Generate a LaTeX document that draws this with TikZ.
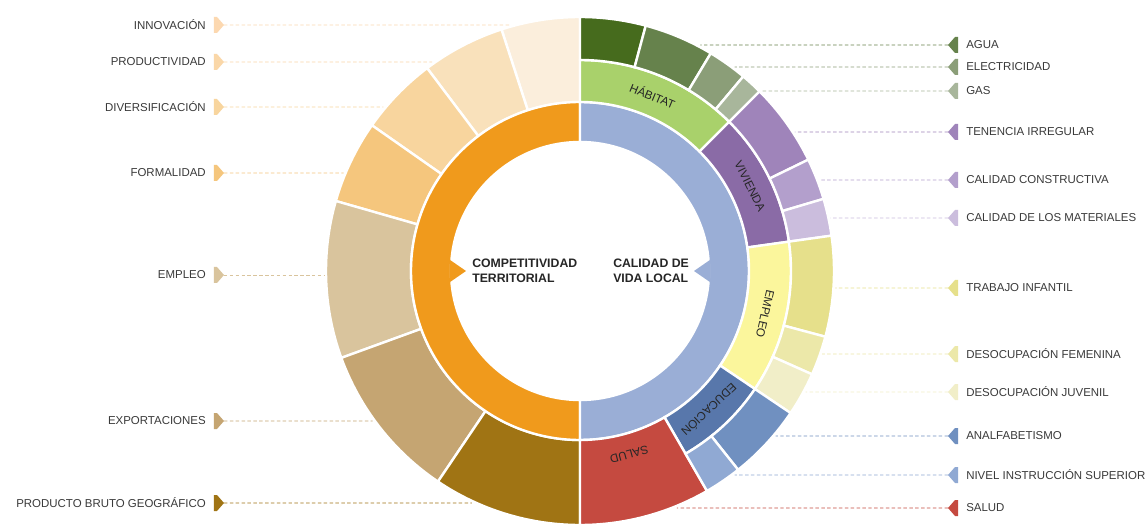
\documentclass[tikz,border=0pt]{standalone}
\usepackage{fontspec}
\setmainfont{Liberation Sans}
\usetikzlibrary{calc}

\definecolor{cOrange}{HTML}{F09A1C}
\definecolor{cBlue}{HTML}{9AAED6}
\definecolor{cInno}{HTML}{FBEEDC}
\definecolor{cProd}{HTML}{F9E1BB}
\definecolor{cDiver}{HTML}{F8D59E}
\definecolor{cFormal}{HTML}{F5C67D}
\definecolor{cEmpL}{HTML}{D9C49D}
\definecolor{cExpo}{HTML}{C5A572}
\definecolor{cPbg}{HTML}{A07414}
\definecolor{cHab}{HTML}{A9D16B}
\definecolor{cViv}{HTML}{8A6BA6}
\definecolor{cEmpR}{HTML}{FBF69C}
\definecolor{cEdu}{HTML}{5877AB}
\definecolor{cSalud}{HTML}{C54A40}
\definecolor{cAgua}{HTML}{466B1D}
\definecolor{cElec}{HTML}{66824C}
\definecolor{cGas}{HTML}{8B9E78}
\definecolor{cGasB}{HTML}{A8B69B}
\definecolor{cTen}{HTML}{9F84BA}
\definecolor{cCons}{HTML}{B39FCC}
\definecolor{cMat}{HTML}{CBBDDD}
\definecolor{cTrab}{HTML}{E6E08B}
\definecolor{cFem}{HTML}{ECE8A9}
\definecolor{cJuv}{HTML}{F1EEC8}
\definecolor{cAnalf}{HTML}{7090C0}
\definecolor{cNivel}{HTML}{90A9D3}
\definecolor{txtgray}{HTML}{3A3A3A}

\def\ringpart[#1](#2:#3:#4:#5){\filldraw[#1, draw=white, line width=1.8pt] (#2:#4) arc (#2:#3:#4) -- (#3:#5) arc (#3:#2:#5) -- cycle;}
\def\tipL[#1](#2){\fill[#1] (#2) -- ++(-7,8) -- ++(-3,0) -- ++(0,-16) -- ++(3,0) -- cycle;}
\def\tipR[#1](#2){\fill[#1] (#2) -- ++(7,8) -- ++(3,0) -- ++(0,-16) -- ++(-3,0) -- cycle;}

\tikzset{
  lbl/.style={font=\fontsize{8.6}{10}\selectfont, text=txtgray, inner sep=0pt},
  hub/.style={font=\bfseries\fontsize{9.2}{11.3}\selectfont, text=black!85, align=left, inner sep=0pt},
  seg/.style={font=\fontsize{8.8}{10}\selectfont, text=black!85, inner sep=0pt},
  link/.style={dash pattern=on 2.6pt off 1.8pt, line width=0.7pt}
}

\begin{document}
\begin{tikzpicture}[x=0.75pt, y=0.75pt]
			%%%%% START %%%%%
			\useasboundingbox (-580,-253) rectangle (568,271);
			\fill[white] (-580,-253) rectangle (568,271);
			
			% left half, outer ring
			\ringpart[fill=cInno](90:108:169:254)
			\ringpart[fill=cProd](108:127:169:254)
			\ringpart[fill=cDiver](127:145:169:254)
			\ringpart[fill=cFormal](145:164:169:254)
			\ringpart[fill=cEmpL](164:200:169:254)
			\ringpart[fill=cExpo](200:236:169:254)
			\ringpart[fill=cPbg](236:270:169:254)
			
			% inner ring
			\ringpart[fill=cOrange](90:270:129:169)
			\ringpart[fill=cBlue](-90:90:129:169)
			\fill[cOrange] (175:131) -- (-114,0) -- (185:131) -- cycle;
			\fill[cBlue] (5:131) -- (114,0) -- (-5:131) -- cycle;
			
			% right half, middle ring
			\ringpart[fill=cHab](45:90:169:211)
			\ringpart[fill=cViv](8:45:169:211)
			\ringpart[fill=cEmpR](-34:8:169:211)
			\ringpart[fill=cEdu](-60:-34:169:211)
			\ringpart[fill=cSalud](-90:-60:169:254)
			
			% right half, outer ring
			\ringpart[fill=cAgua](75:90:211:254)
			\ringpart[fill=cElec](59:75:211:254)
			\ringpart[fill=cGas](50:59:211:254)
			\ringpart[fill=cGasB](45:50:211:254)
			\ringpart[fill=cTen](26:45:211:254)
			\ringpart[fill=cCons](16.5:26:211:254)
			\ringpart[fill=cMat](8:16.5:211:254)
			\ringpart[fill=cTrab](-15:8:211:254)
			\ringpart[fill=cFem](-24:-15:211:254)
			\ringpart[fill=cJuv](-34:-24:211:254)
			\ringpart[fill=cAnalf](-51.5:-34:211:254)
			\ringpart[fill=cNivel](-60:-51.5:211:254)
			
			\node[hub, anchor=west] (comp) at (-108,0.5) {COMPETITIVIDAD\\TERRITORIAL};
			\node[hub, anchor=west] (calid) at (33,0.5) {CALIDAD DE\\VIDA LOCAL};
			
			\node[seg, rotate=-22.5] (hab) at (67.5:190) {HÁBITAT};
			\node[seg, rotate=-63.5] (viv) at (26.5:190) {VIVIENDA};
			\node[seg, rotate=-103] (empR) at (-13:190) {EMPLEO};
			\node[seg, rotate=-137] (edu) at (-47:190) {EDUCACIÓN};
			\node[seg, rotate=-165] (sal) at (-75:190) {SALUD};
			
			% left labels
			\node[lbl, anchor=east] (inno) at (-374,246) {INNOVACIÓN};
			\node[lbl, anchor=east] (prod) at (-374,209) {PRODUCTIVIDAD};
			\node[lbl, anchor=east] (diver) at (-374,164) {DIVERSIFICACIÓN};
			\node[lbl, anchor=east] (formal) at (-374,98) {FORMALIDAD};
			\node[lbl, anchor=east] (empL) at (-374,-4) {EMPLEO};
			\node[lbl, anchor=east] (expo) at (-374,-150) {EXPORTACIONES};
			\node[lbl, anchor=east] (pbg) at (-374,-232) {PRODUCTO BRUTO GEOGRÁFICO};
			
			\coordinate (mInno) at (-356,246);
			\coordinate (mProd) at (-356,209);
			\coordinate (mDiver) at (-356,164);
			\coordinate (mFormal) at (-356,98);
			\coordinate (mEmpL) at (-356,-4);
			\coordinate (mExpo) at (-356,-150);
			\coordinate (mPbg) at (-356,-232);
			
			\coordinate (eInno) at ({180-asin(246/256)}:256);
			\coordinate (eProd) at ({180-asin(209/256)}:256);
			\coordinate (eDiver) at ({180-asin(164/256)}:256);
			\coordinate (eFormal) at ({180-asin(98/256)}:256);
			\coordinate (eEmpL) at ({180-asin(-4/256)}:256);
			\coordinate (eExpo) at ({180-asin(-150/256)}:256);
			\coordinate (ePbg) at ({180-asin(-232/256)}:256);
			
			\draw[link, cInno!80!orange] (mInno) -- (eInno);
			\draw[link, cProd!90!orange] (mProd) -- (eProd);
			\draw[link, cDiver] (mDiver) -- (eDiver);
			\draw[link, cFormal] (mFormal) -- (eFormal);
			\draw[link, cEmpL] (mEmpL) -- (eEmpL);
			\draw[link, cExpo] (mExpo) -- (eExpo);
			\draw[link, cPbg] (mPbg) -- (ePbg);
			
			\tipL[cInno!80!orange](mInno)
			\tipL[cProd!90!orange](mProd)
			\tipL[cDiver](mDiver)
			\tipL[cFormal](mFormal)
			\tipL[cEmpL](mEmpL)
			\tipL[cExpo](mExpo)
			\tipL[cPbg](mPbg)
			
			% right labels
			\node[lbl, anchor=west] (agua) at (386,226) {AGUA};
			\node[lbl, anchor=west] (elec) at (386,204) {ELECTRICIDAD};
			\node[lbl, anchor=west] (gas) at (386,180) {GAS};
			\node[lbl, anchor=west] (ten) at (386,139) {TENENCIA IRREGULAR};
			\node[lbl, anchor=west] (cons) at (386,91) {CALIDAD CONSTRUCTIVA};
			\node[lbl, anchor=west] (mat) at (386,53) {CALIDAD DE LOS MATERIALES};
			\node[lbl, anchor=west] (trab) at (386,-17) {TRABAJO INFANTIL};
			\node[lbl, anchor=west] (fem) at (386,-83) {DESOCUPACIÓN FEMENINA};
			\node[lbl, anchor=west] (juv) at (386,-121) {DESOCUPACIÓN JUVENIL};
			\node[lbl, anchor=west] (analf) at (386,-165) {ANALFABETISMO};
			\node[lbl, anchor=west] (nivel) at (386,-204) {NIVEL INSTRUCCIÓN SUPERIOR};
			\node[lbl, anchor=west] (salud) at (386,-237) {SALUD};
			
			\coordinate (mAgua) at (368,226);
			\coordinate (mElec) at (368,204);
			\coordinate (mGas) at (368,180);
			\coordinate (mTen) at (368,139);
			\coordinate (mCons) at (368,91);
			\coordinate (mMat) at (368,53);
			\coordinate (mTrab) at (368,-17);
			\coordinate (mFem) at (368,-83);
			\coordinate (mJuv) at (368,-121);
			\coordinate (mAnalf) at (368,-165);
			\coordinate (mNivel) at (368,-204);
			\coordinate (mSalud) at (368,-237);
			
			\coordinate (eAgua) at ({asin(226/256)}:256);
			\coordinate (eElec) at ({asin(204/256)}:256);
			\coordinate (eGas) at ({asin(180/256)}:256);
			\coordinate (eTen) at ({asin(139/256)}:256);
			\coordinate (eCons) at ({asin(91/256)}:256);
			\coordinate (eMat) at ({asin(53/256)}:256);
			\coordinate (eTrab) at ({asin(-17/256)}:256);
			\coordinate (eFem) at ({asin(-83/256)}:256);
			\coordinate (eJuv) at ({asin(-121/256)}:256);
			\coordinate (eAnalf) at ({asin(-165/256)}:256);
			\coordinate (eNivel) at ({asin(-204/256)}:256);
			\coordinate (eSalud) at ({asin(-237/256)}:256);
			
			\draw[link, cElec] (mAgua) -- (eAgua);
			\draw[link, cGas] (mElec) -- (eElec);
			\draw[link, cGasB] (mGas) -- (eGas);
			\draw[link, cTen] (mTen) -- (eTen);
			\draw[link, cCons] (mCons) -- (eCons);
			\draw[link, cMat] (mMat) -- (eMat);
			\draw[link, cTrab] (mTrab) -- (eTrab);
			\draw[link, cFem] (mFem) -- (eFem);
			\draw[link, cJuv] (mJuv) -- (eJuv);
			\draw[link, cAnalf] (mAnalf) -- (eAnalf);
			\draw[link, cNivel] (mNivel) -- (eNivel);
			\draw[link, cSalud] (mSalud) -- (eSalud);
			
			\tipR[cElec](mAgua)
			\tipR[cGas](mElec)
			\tipR[cGasB](mGas)
			\tipR[cTen](mTen)
			\tipR[cCons](mCons)
			\tipR[cMat](mMat)
			\tipR[cTrab](mTrab)
			\tipR[cFem](mFem)
			\tipR[cJuv](mJuv)
			\tipR[cAnalf](mAnalf)
			\tipR[cNivel](mNivel)
			\tipR[cSalud](mSalud)
			%%%%% END %%%%%
\end{tikzpicture}
\end{document}
